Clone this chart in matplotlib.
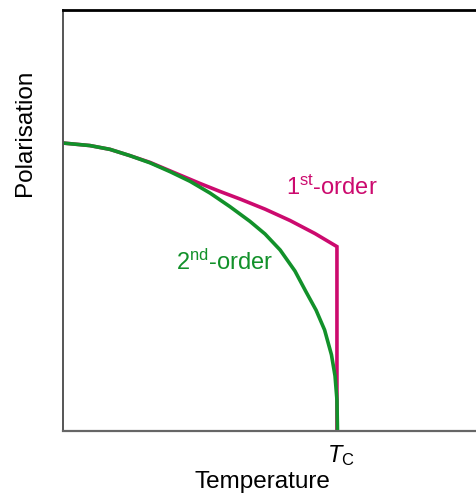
import matplotlib.pyplot as plt

plt.rcParams['font.family'] = ['Liberation Sans', 'DejaVu Sans']
plt.rcParams['mathtext.fontset'] = 'custom'
plt.rcParams['mathtext.rm'] = 'Liberation Sans'
plt.rcParams['mathtext.it'] = 'Liberation Sans:italic'

# temperature in units of Tc, polarisation
t_second = [0.0, 0.098, 0.171, 0.244, 0.317, 0.390, 0.463, 0.536, 0.608,
            0.681, 0.736, 0.791, 0.845, 0.885, 0.922, 0.953, 0.978, 0.991,
            0.998, 1.0]
p_second = [0.684, 0.678, 0.669, 0.654, 0.637, 0.616, 0.593, 0.565, 0.533,
            0.498, 0.468, 0.430, 0.380, 0.331, 0.287, 0.240, 0.181, 0.131,
            0.074, 0.0]

t_first = [0.0, 0.098, 0.171, 0.244, 0.317, 0.426, 0.499, 0.572, 0.645,
           0.736, 0.827, 0.918, 0.998, 0.998]
p_first = [0.684, 0.678, 0.669, 0.654, 0.638, 0.608, 0.588, 0.569, 0.551,
           0.527, 0.500, 0.469, 0.438, 0.0]

magenta = '#cc0a6e'
green = '#12912a'

fig = plt.figure(figsize=(4.77, 4.93), dpi=100)
ax = fig.add_axes([63 / 477, 62 / 493, 414 / 477, 421 / 493])

ax.plot(t_first, p_first, color=magenta, lw=2.6, solid_joinstyle='miter')
ax.plot(t_second, p_second, color=green, lw=2.6)

ax.set_xlim(0, 414 / 274.5)
ax.set_ylim(0, 1)
ax.set_xticks([])
ax.set_yticks([])

ax.spines['right'].set_visible(False)
ax.spines['top'].set_color('black')
ax.spines['top'].set_linewidth(2)
ax.spines['left'].set_color('#555555')
ax.spines['left'].set_linewidth(1.4)
ax.spines['bottom'].set_color('#666666')
ax.spines['bottom'].set_linewidth(1.6)

ax.text(0.978, 0.561, '1$^{\\mathrm{st}}$-order', color=magenta, fontsize=17,
        ha='center', va='baseline')
ax.text(0.589, 0.382, '2$^{\\mathrm{nd}}$-order', color=green, fontsize=17,
        ha='center', va='baseline')

xt = ax.get_xaxis_transform()
ax.text(1.011, -0.074, '$T_{\\mathrm{C}}$', fontsize=17, ha='center',
        va='baseline', transform=xt, clip_on=False)
ax.text(0.727, -0.135, 'Temperature', fontsize=17.5, ha='center',
        va='baseline', transform=xt, clip_on=False)
ax.text(-0.092, 0.708, 'Polarisation', fontsize=17.5, rotation=90,
        ha='center', va='center', transform=ax.transAxes, clip_on=False)

fig.savefig('out.png', dpi=100)
